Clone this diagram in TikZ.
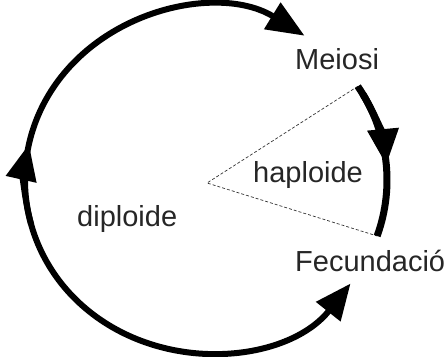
\documentclass[tikz,border=0pt]{standalone}
\usepackage{fontspec}
\setmainfont{Liberation Sans}
\usetikzlibrary{arrows.meta}
\begin{document}
\begin{tikzpicture}[x=1pt,y=1pt,
  cycleline/.style={line width=6pt,black},
  bigtip/.style={-{Triangle[length=36pt,width=30pt]}},
  bothtips/.style={{Triangle[length=36pt,width=30pt]}-{Triangle[length=38pt,width=30pt]}},
  guide/.style={line width=0.7pt,black!80,dash pattern=on 3pt off 2pt},
  lbl/.style={anchor=base west,inner sep=0pt,font=\fontsize{29}{32}\selectfont,text=black!85}]
\useasboundingbox (0,0) rectangle (444,356);
\coordinate (C) at (206,176);
\coordinate (V) at (207,173);
% labels
\node[lbl] (meiosi) at (295,286) {Meiosi};
\node[lbl] (haplo) at (253,173) {haploide};
\node[lbl] (diplo) at (77,129) {diploide};
\node[lbl] (fecund) at (295,84) {Fecundació};
% radii bounding the haploid sector
\coordinate (mstart) at ([shift={(33:181pt and 172pt)}]C);
\coordinate (mend) at ([shift={(-19:181pt and 172pt)}]C);
\draw[guide] (mstart) -- (V) -- (mend);
% meiosis arc
\draw[cycleline,line width=7pt] (mstart) arc[start angle=33,end angle=-19,x radius=181pt,y radius=172pt];
\draw[cycleline,line width=7pt,bigtip] ([shift={(30:181pt and 172pt)}]C) arc[start angle=30,end angle=5,x radius=181pt,y radius=172pt];
% diploid arc
\draw[cycleline,bothtips] ([shift={(323:181pt and 172pt)}]C) arc[start angle=323,end angle=57,x radius=181pt,y radius=172pt];
\draw[cycleline,bigtip] ([shift={(195:181pt and 172pt)}]C) arc[start angle=195,end angle=168,x radius=181pt,y radius=172pt];
\end{tikzpicture}
\end{document}
